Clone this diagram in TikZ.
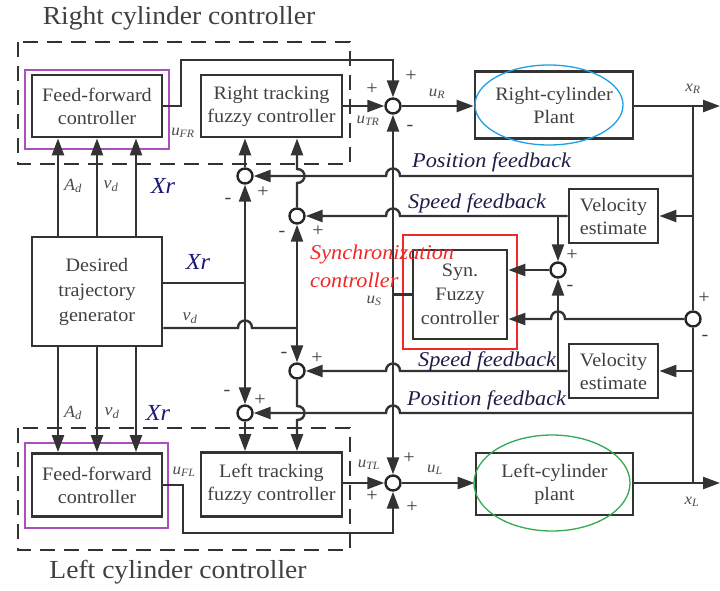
\documentclass[tikz,border=0pt]{standalone}
\usepackage{fontspec}
\setmainfont{Liberation Serif}[FakeStretch=1.06]
\usetikzlibrary{arrows.meta,calc}
\definecolor{ellB}{RGB}{30,160,230}
\definecolor{ellG}{RGB}{50,170,80}
\definecolor{purp}{RGB}{170,80,190}
\definecolor{redR}{RGB}{240,40,40}
\definecolor{fbtxt}{RGB}{30,30,70}
\definecolor{xrtxt}{RGB}{25,25,120}
\begin{document}
\begin{tikzpicture}[x=1pt,y=-1pt,
  ln/.style={line width=2.4pt, draw=black!80},
  ar/.style={ln, -{Triangle[length=17pt,width=12pt]}},
  blk/.style={draw=black!80, line width=2.8pt, align=center, inner sep=0pt, text=black!75, font=\fontsize{19}{23}\selectfont},
  sm/.style={circle, draw=black!85, line width=2.4pt, minimum size=15pt, inner sep=0pt},
  sg/.style={font=\fontsize{19}{19}\selectfont, text=black!75, inner sep=0pt},
  lb/.style={font=\fontsize{16}{16}\selectfont\itshape, text=black!70, inner sep=0pt},
  lbv/.style={font=\fontsize{17}{17}\selectfont\itshape, text=black!70, inner sep=0pt},
  xr/.style={font=\fontsize{23}{23}\selectfont\itshape, text=xrtxt, inner sep=0pt},
  fb/.style={font=\fontsize{21}{21}\selectfont\itshape, text=fbtxt, inner sep=0pt, anchor=base west},
  sy/.style={font=\fontsize{21}{21}\selectfont\itshape, text=redR, inner sep=0pt, anchor=base west},
  ttl/.style={font=\fontsize{26}{26}\selectfont, text=black!75, inner sep=0pt},
  dbox/.style={draw=black!80, line width=2.8pt, dash pattern=on 15pt off 9pt},
]
\useasboundingbox (0,0) rectangle (720,590);

% blocks
\node[blk, minimum width=130pt, minimum height=62pt] (ffR) at (97,106) {Feed-forward\\controller};
\node[blk, minimum width=141pt, minimum height=62pt] (rtc) at (271.5,106) {Right tracking\\fuzzy controller};
\node[blk, minimum width=158pt, minimum height=67pt] (plR) at (554,105) {Right-cylinder\\Plant};
\node[blk, minimum width=130pt, minimum height=109pt, font=\fontsize{19}{25}\selectfont] (dtg) at (97,291.5) {Desired\\trajectory\\generator};
\node[blk, minimum width=130pt, minimum height=63pt] (ffL) at (97,485) {Feed-forward\\controller};
\node[blk, minimum width=141pt, minimum height=64pt] (ltc) at (271.5,484.5) {Left tracking\\fuzzy controller};
\node[blk, minimum width=157pt, minimum height=62pt] (plL) at (554.5,484) {Left-cylinder\\plant};
\node[blk, minimum width=89pt, minimum height=54pt] (velR) at (613.5,216) {Velocity\\estimate};
\node[blk, minimum width=89pt, minimum height=54pt] (velL) at (613.5,371) {Velocity\\estimate};
\node[blk, minimum width=94pt, minimum height=89pt, font=\fontsize{19}{24}\selectfont] (syn) at (460,294.5) {Syn.\\Fuzzy\\controller};

% summers
\node[sm] (sR) at (393,106) {};
\node[sm] (sL) at (393,483) {};
\node[sm] (sRp) at (245,176) {};
\node[sm] (sRv) at (297,216) {};
\node[sm] (sLv) at (297,371) {};
\node[sm] (sLp) at (245,413) {};
\node[sm] (sSy) at (558,270) {};
\node[sm] (s2) at (693,319) {};

% coordinates
\coordinate (jxR) at (693,106); \coordinate (outR) at (720,106);
\coordinate (jxL) at (693,483); \coordinate (outL) at (720,483);
\coordinate (pR) at (693,176); \coordinate (vR) at (693,216);
\coordinate (vL) at (693,371); \coordinate (pL) at (693,413);
\coordinate (jSR) at (558,216); \coordinate (jSL) at (558,371);
\coordinate (jXr) at (245,283); \coordinate (jVd) at (297,328);
\coordinate (jUs) at (393,294.5);
\coordinate (cR) at (181,60); \coordinate (cL) at (183,533);

% dashed controller frames
\draw[dbox] (18,42) rectangle (350,164);
\draw[dbox] (18,428) rectangle (350,550);

% highlight frames
\draw[purp, line width=1.3pt] (25,70) rectangle (169,149);
\draw[purp, line width=1.3pt] (25,443) rectangle (168,528);
\draw[redR, line width=1.3pt] (403,235) rectangle (517,349);
\draw[ellB, line width=1.3pt] (549,105) ellipse [x radius=74pt, y radius=40pt];
\draw[ellG, line width=1.3pt] (552,483) ellipse [x radius=78pt, y radius=48pt];

% plant paths
\draw[ar] (sR) -- (plR.west |- sR);
\draw[ar] (plR.east |- outR) -- (outR);
\draw[ar] (sL) -- (plL.west |- sL);
\draw[ar] (plL.east |- outL) -- (outL);
\draw[ln] (jxR) -- (s2);
\draw[ln] (jxL) -- (s2);
\draw[ar] (vR) -- (velR.east);
\draw[ar] (vL) -- (velL.east);

% feedback lines
\draw[ar] (pR) -- (400,176) .. controls (400,166) and (386,166) .. (386,176) -- (sRp);
\draw[ar] (velR.west) -- (400,216) .. controls (400,206) and (386,206) .. (386,216) -- (sRv);
\draw[ar] (velL.west) -- (400,371) .. controls (400,361) and (386,361) .. (386,371) -- (sLv);
\draw[ar] (pL) -- (400,413) .. controls (400,403) and (386,403) .. (386,413) -- (sLp);

% synchronization
\draw[ar] (jSR) -- (sSy);
\draw[ar] (jSL) -- (sSy);
\draw[ar] (sSy) -- (syn.east |- sSy);
\draw[ar] (s2) -- (565,319) .. controls (565,309) and (551,309) .. (551,319) -- (syn.east |- s2);
\draw[ln] (syn.west |- jUs) -- (jUs);
\draw[ar] (jUs) -- (sR);
\draw[ar] (jUs) -- (sL);

% controller outputs
\draw[ar] (rtc.east) -- (sR);
\draw[ar] (ltc.east |- sL) -- (sL);
\draw[ar] (ffR.east) -- (ffR.east -| cR) -- (cR) -- (cR -| sR) -- (sR);
\draw[ar] (ffL.east) -- (ffL.east -| cL) -- (cL) -- (cL -| sL) -- (sL);

% trajectory generator to feed-forward
\foreach \dx in {-39,0,39} {
  \draw[ar] ([xshift=\dx pt]dtg.north) -- ([xshift=\dx pt]dtg.north |- ffR.south);
  \draw[ar] ([xshift=\dx pt]dtg.south) -- ([xshift=\dx pt]dtg.south |- ffL.north);
}
\draw[ln] (dtg.east |- jXr) -- (jXr);
\draw[ar] (jXr) -- (sRp);
\draw[ar] (jXr) -- (sLp);
\draw[ln] (dtg.east |- jVd) -- (238,328) .. controls (238,318) and (252,318) .. (252,328) -- (jVd);
\draw[ar] (jVd) -- (sRv);
\draw[ar] (jVd) -- (sLv);

% tracking errors into fuzzy controllers
\draw[ar] (sRp) -- (sRp |- rtc.south);
\draw[ar] (sRv) -- (297,183) .. controls (307,183) and (307,169) .. (297,169) -- (sRv |- rtc.south);
\draw[ar] (sLp) -- (sLp |- ltc.north);
\draw[ar] (sLv) -- (297,406) .. controls (307,406) and (307,420) .. (297,420) -- (sLv |- ltc.north);

% titles
\node[ttl] (tR) at (179,18) {Right cylinder controller};
\node[ttl] (tL) at (178,572) {Left cylinder controller};

% feedback labels
\node[fb] (fb1) at (412,167) {Position feedback};
\node[fb] (fb2) at (408,208) {Speed feedback};
\node[fb] (fb3) at (418,366) {Speed feedback};
\node[fb] (fb4) at (407,405) {Position feedback};
\node[sy] (sy1) at (310,259) {Synchronization};
\node[sy] (sy2) at (310,287) {controller};

% signal labels
\node[lbv] (a1) at (73,186) {A\textsubscript{d}};
\node[lbv] (a2) at (111,186) {v\textsubscript{d}};
\node[xr] (a3) at (163,186) {Xr};
\node[lbv] (b1) at (73,413) {A\textsubscript{d}};
\node[lbv] (b2) at (112,413) {v\textsubscript{d}};
\node[xr] (b3) at (158,413) {Xr};
\node[xr] (c1) at (198,262) {Xr};
\node[lbv] (c2) at (190,318) {v\textsubscript{d}};
\node[lb] (u1) at (183,133) {u\textsubscript{FR}};
\node[lb] (u2) at (368,121) {u\textsubscript{TR}};
\node[lb] (u3) at (437,94) {u\textsubscript{R}};
\node[lb] (u4) at (693,89) {x\textsubscript{R}};
\node[lb] (u5) at (374,301) {u\textsubscript{S}};
\node[lb] (u6) at (184,472) {u\textsubscript{FL}};
\node[lb] (u7) at (369,465) {u\textsubscript{TL}};
\node[lb] (u8) at (435,470) {u\textsubscript{L}};
\node[lb] (u9) at (692,502) {x\textsubscript{L}};

% signs
\node[sg] (g1) at (411,76) {+};
\node[sg] (g2) at (372,89) {+};
\node[sg] (g3) at (410,128) {-};
\node[sg] (g4) at (409,458) {+};
\node[sg] (g5) at (372,496) {+};
\node[sg] (g6) at (412,507) {+};
\node[sg] (g7) at (572,255) {+};
\node[sg] (g8) at (570,288) {-};
\node[sg] (g9) at (704,298) {+};
\node[sg] (g10) at (705,338) {-};
\node[sg] (g11) at (228,201) {-};
\node[sg] (g12) at (263,192) {+};
\node[sg] (g13) at (282,234) {-};
\node[sg] (g14) at (318,231) {+};
\node[sg] (g15) at (284,355) {-};
\node[sg] (g16) at (317,358) {+};
\node[sg] (g17) at (227,393) {-};
\node[sg] (g18) at (260,400) {+};
\end{tikzpicture}
\end{document}
